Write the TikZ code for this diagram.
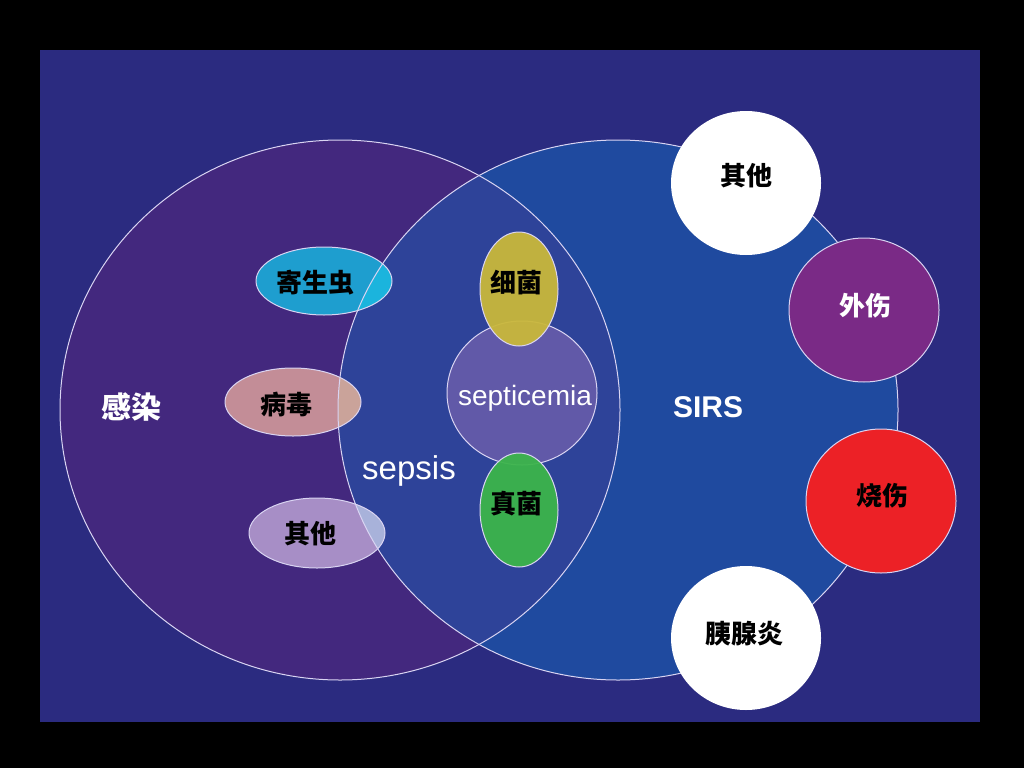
\documentclass[tikz,border=0pt]{standalone}
\usepackage{fontspec}
\setmainfont{Liberation Sans}
\newfontfamily\cjk{Noto Sans CJK SC}
\usetikzlibrary{shapes.geometric}
\definecolor{bgnavy}{HTML}{2B2B80}
\definecolor{infpurple}{HTML}{43287E}
\definecolor{sirsblue}{HTML}{1F4A9F}
\definecolor{sepblue}{HTML}{2E4399}
\definecolor{edgecol}{HTML}{D9D4F2}
\definecolor{cyanA}{HTML}{1E9ECF}
\definecolor{cyanB}{HTML}{1BB4DD}
\definecolor{pinkA}{HTML}{C38D97}
\definecolor{pinkB}{HTML}{CAA39A}
\definecolor{lavA}{HTML}{A78EC6}
\definecolor{lavB}{HTML}{A8B2DA}
\definecolor{septcol}{HTML}{6159A8}
\definecolor{yellowc}{HTML}{CAB83A}
\definecolor{greenc}{HTML}{3BB54A}
\definecolor{traumac}{HTML}{7A2A86}
\definecolor{burnc}{HTML}{EC2126}
\tikzset{
  rim/.style={draw=edgecol, line width=1pt},
  cjklabel/.style={font=\cjk\bfseries\fontsize{26}{30}\selectfont, text=black, inner sep=0pt},
  cjkwhite/.style={font=\cjk\bfseries\fontsize{30}{34}\selectfont, text=white, inner sep=0pt},
  latlabel/.style={font=\fontsize{28}{32}\selectfont, text=white, inner sep=0pt, anchor=base},
}
\begin{document}
\begin{tikzpicture}[x=1pt,y=-1pt]
\useasboundingbox (0,0) rectangle (1024,768);
\fill[black] (0,0) rectangle (1024,768);
\fill[bgnavy] (40,50) rectangle (980,722);
% big circles
\fill[infpurple] (340,410) ellipse [x radius=280, y radius=270];
\fill[sirsblue] (618,410) ellipse [x radius=280, y radius=270];
\begin{scope}
  \clip (340,410) ellipse [x radius=280, y radius=270];
  \fill[sepblue] (618,410) ellipse [x radius=280, y radius=270];
\end{scope}
% infection bubbles
\fill[cyanA] (324,281) ellipse [x radius=68, y radius=34];
\fill[pinkA] (293,402) ellipse [x radius=68, y radius=34];
\fill[lavA] (317,533) ellipse [x radius=68, y radius=35];
\begin{scope}
  \clip (618,410) ellipse [x radius=280, y radius=270];
  \fill[cyanB] (324,281) ellipse [x radius=68, y radius=34];
  \fill[pinkB] (293,402) ellipse [x radius=68, y radius=34];
  \fill[lavB] (317,533) ellipse [x radius=68, y radius=35];
\end{scope}
\draw[rim] (324,281) ellipse [x radius=68, y radius=34];
\draw[rim] (293,402) ellipse [x radius=68, y radius=34];
\draw[rim] (317,533) ellipse [x radius=68, y radius=35];
% big outlines
\draw[rim] (340,410) ellipse [x radius=280, y radius=270];
\draw[rim] (618,410) ellipse [x radius=280, y radius=270];
% septicemia group
\fill[septcol] (522,393) ellipse [x radius=75, y radius=72];
\draw[rim] (522,393) ellipse [x radius=75, y radius=72];
\fill[yellowc, fill opacity=0.94] (519,289) ellipse [x radius=39, y radius=57];
\draw[rim] (519,289) ellipse [x radius=39, y radius=57];
\fill[greenc, fill opacity=0.94] (519,510) ellipse [x radius=39, y radius=57];
\draw[rim] (519,510) ellipse [x radius=39, y radius=57];
% SIRS causes
\fill[white] (746,183) ellipse [x radius=75, y radius=72];
\fill[traumac] (864,310) ellipse [x radius=75, y radius=72];
\draw[rim] (864,310) ellipse [x radius=75, y radius=72];
\fill[burnc] (881,501) ellipse [x radius=75, y radius=72];
\draw[rim] (881,501) ellipse [x radius=75, y radius=72];
\fill[white] (746,638) ellipse [x radius=75, y radius=72];
% labels
\node[cjkwhite] (infect) at (131,407) {感染};
\node[cjklabel] (parasite) at (315,283) {寄生虫};
\node[cjklabel] (virus) at (286,405) {病毒};
\node[cjklabel] (otherL) at (310,534) {其他};
\node[cjklabel] (bacteria) at (516,283) {细菌};
\node[cjklabel] (fungus) at (516,504) {真菌};
\node[latlabel] (septicemia) at (525,405) {septicemia};
\node[latlabel, font=\fontsize{33}{36}\selectfont] (sepsis) at (409,479) {sepsis};
\node[latlabel, font=\bfseries\fontsize{30}{34}\selectfont] (sirs) at (708,417) {SIRS};
\node[cjklabel] (otherT) at (746,176) {其他};
\node[cjklabel, text=white] (trauma) at (865,306) {外伤};
\node[cjklabel] (burn) at (882,496) {烧伤};
\node[cjklabel] (pancreatitis) at (744,634) {胰腺炎};
\end{tikzpicture}
\end{document}
